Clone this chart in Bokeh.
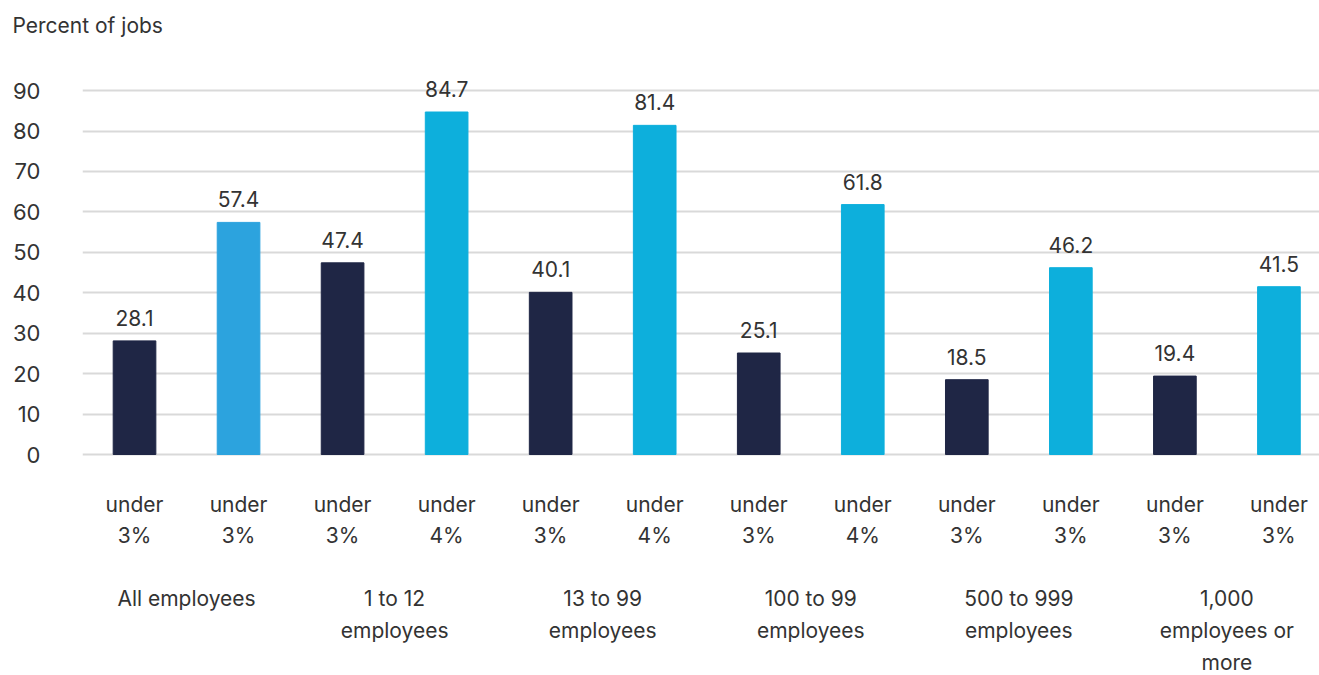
from bokeh.plotting import figure
from bokeh.models import Range1d, FixedTicker, ColumnDataSource
from bokeh.core.properties import value
from bokeh.embed import file_html
from bokeh.resources import INLINE

# ---- data ----
groups = ["All employees", "1 to 12\nemployees", "13 to 99\nemployees",
          "100 to 99\nemployees", "500 to 999\nemployees", "1,000\nemployees or\nmore"]
dark_values = [28.1, 47.4, 40.1, 25.1, 18.5, 19.4]
light_values = [57.4, 84.7, 81.4, 61.8, 46.2, 41.5]
dark_labels = ["under 3%", "under 3%", "under 3%", "under 3%", "under 3%", "under 3%"]
light_labels = ["under 3%", "under 4%", "under 4%", "under 4%", "under 3%", "under 3%"]
y_ticks = [0, 10, 20, 30, 40, 50, 60, 70, 80, 90]
y_title = "Percent of jobs"

# ---- styles ----
FONT = "Inter"
TXT = "#333333"
DARK = "#1f2645"
LIGHT_FIRST = "#2ca3de"
LIGHT = "#0dafdc"
FS = "21px"

xs, vals, cols, cat_labels = [], [], [], []
for i in range(len(groups)):
    xs += [2 * i, 2 * i + 1]
    vals += [dark_values[i], light_values[i]]
    cols += [DARK, LIGHT_FIRST if i == 0 else LIGHT]
    cat_labels += [dark_labels[i], light_labels[i]]

src = ColumnDataSource(dict(
    x=xs, top=vals, color=cols,
    vlabel=[f"{v:.1f}" for v in vals],
    cat=[c.replace(" ", "\n") for c in cat_labels],
))
gsrc = ColumnDataSource(dict(
    x=[2 * i + 0.5 for i in range(len(groups))],
    g=groups,
))

p = figure(width=1319, height=675, output_backend="svg", toolbar_location=None,
           x_range=Range1d(-0.5, 11.39), y_range=Range1d(-54.65, 100.9),
           min_border_left=82, min_border_right=0, min_border_bottom=0,
           min_border_top=46, x_axis_location=None, title=y_title)

p.outline_line_color = None
p.xgrid.grid_line_color = None
p.ygrid.ticker = FixedTicker(ticks=y_ticks)
p.ygrid.grid_line_color = "#d9d9d9"
p.ygrid.grid_line_width = 2

ya = p.yaxis[0]
ya.ticker = FixedTicker(ticks=y_ticks)
ya.axis_line_color = None
ya.major_tick_line_color = None
ya.minor_tick_line_color = None
ya.major_tick_out = 0
ya.major_label_standoff = 42
ya.major_label_text_font = FONT
ya.major_label_text_font_size = "22px"
ya.major_label_text_color = TXT

p.title.text_font = FONT
p.title.text_font_size = "21px"
p.title.text_font_style = "normal"
p.title.text_color = TXT
p.title.align = "left"
p.title.offset = -70
p.title.standoff = 18

p.vbar(x="x", top="top", bottom=0, width=0.41, color="color", source=src)

p.text(x="x", y="top", text="vlabel", source=src, text_align="center",
       text_baseline="bottom", y_offset=-15, text_font=value(FONT),
       text_font_size=FS, text_color=TXT)

p.text(x="x", y=0, text="cat", source=src, text_align="center",
       text_baseline="top", y_offset=37, text_font=value(FONT),
       text_font_size=FS, text_color=TXT, text_line_height=1.25)

p.text(x="x", y=0, text="g", source=gsrc, text_align="center",
       text_baseline="top", y_offset=131, text_font=value(FONT),
       text_font_size=FS, text_color=TXT, text_line_height=1.28)

open("out.html", "w").write(file_html(p, INLINE))
